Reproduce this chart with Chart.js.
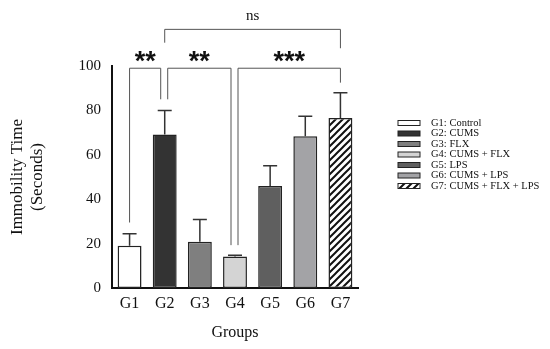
<!DOCTYPE html>
<html>
<head>
<meta charset="utf-8">
<script src="https://cdn.jsdelivr.net/npm/chart.js@4"></script>
<style>
  html, body { margin: 0; padding: 0; background: #fff; }
  #wrap { width: 550px; height: 349px; position: relative; }
</style>
</head>
<body>
<div id="wrap"><canvas id="chart"></canvas></div>
<script>
const groups = ['G1', 'G2', 'G3', 'G4', 'G5', 'G6', 'G7'];
const legendNames = ['G1: Control', 'G2: CUMS', 'G3: FLX', 'G4: CUMS + FLX', 'G5: LPS', 'G6: CUMS + LPS', 'G7: CUMS + FLX + LPS'];
const means = [19, 69.2, 20.8, 14.2, 46, 68.4, 76.6];
const errUpper = [24.4, 80, 30.8, 14.7, 55.1, 77.4, 88];
const yTicks = [0, 20, 40, 60, 80, 100];
// significance brackets: [from index, to index, top value, left leg end, right leg end, label]
const brackets = [
    [0, 1, 99, 29.5, 85, '**'],
    [1, 3, 99, 85, 19.3, '**'],
    [3, 6, 99, 19.3, 92.5, '***'],
    [1, 6, 116.5, 110.5, 108, 'ns']
];
const fills = ['#ffffff', '#333333', '#7f7f7f', '#d4d4d4', '#5f5f5f', '#a3a3a6', 'hatch'];

function hatchPattern() {
    const c = document.createElement('canvas');
    c.width = 7; c.height = 7;
    const g = c.getContext('2d');
    g.fillStyle = '#fff';
    g.fillRect(0, 0, 7, 7);
    g.strokeStyle = '#111';
    g.lineWidth = 2;
    g.beginPath();
    g.moveTo(-1, 8); g.lineTo(8, -1);
    g.moveTo(-4, 4); g.lineTo(4, -4);
    g.moveTo(3, 11); g.lineTo(11, 3);
    g.stroke();
    return g.createPattern(c, 'repeat');
}

const ctx = document.getElementById('chart').getContext('2d');
const hatch = hatchPattern();
const barColors = fills.map(f => f === 'hatch' ? hatch : f);

const extras = {
    id: 'extras',
    afterDatasetsDraw(chart) {
        const c = chart.ctx;
        const x = chart.scales.x;
        const y = chart.scales.y;
        const meta = chart.getDatasetMeta(0);
        // error bars
        c.save();
        c.strokeStyle = '#333';
        c.lineWidth = 1.5;
        means.forEach((m, i) => {
            const px = meta.data[i].x;
            const top = y.getPixelForValue(errUpper[i]);
            c.beginPath();
            c.moveTo(px, y.getPixelForValue(m));
            c.lineTo(px, top);
            c.moveTo(px - 7, top);
            c.lineTo(px + 7, top);
            c.stroke();
        });
        c.restore();
        // brackets
        c.save();
        c.strokeStyle = '#555';
        c.lineWidth = 1;
        brackets.forEach(([a, b, top, la, lb, label]) => {
            let xa = x.getPixelForValue(a);
            let xb = x.getPixelForValue(b);
            if (label !== 'ns' && a > 0) xa += 3;
            if (b === 1 || b === 3) xb -= 4;
            const yt = y.getPixelForValue(top);
            c.beginPath();
            c.moveTo(xa, y.getPixelForValue(la));
            c.lineTo(xa, yt);
            c.lineTo(xb, yt);
            c.lineTo(xb, y.getPixelForValue(lb));
            c.stroke();
            c.fillStyle = '#111';
            c.textAlign = 'center';
            c.textBaseline = 'middle';
            if (label === 'ns') {
                c.font = '15px "Liberation Serif"';
                c.fillText(label, (xa + xb) / 2, yt - 13);
            } else {
                c.font = 'bold 27px "Liberation Sans"';
                c.fillText(label, (xa + xb) / 2, yt - 6);
            }
        });
        c.restore();
        // legend
        c.save();
        c.font = '10.5px "Liberation Serif"';
        c.textBaseline = 'middle';
        c.textAlign = 'left';
        legendNames.forEach((name, i) => {
            const yy = 123 + i * 10.5;
            c.fillStyle = barColors[i];
            c.fillRect(398, yy - 2.5, 22, 5);
            c.strokeStyle = '#222';
            c.lineWidth = 1;
            c.strokeRect(398, yy - 2.5, 22, 5);
            c.fillStyle = '#111';
            c.fillText(name, 431, yy);
        });
        c.restore();
    }
};

new Chart(ctx, {
    type: 'bar',
    data: {
        labels: groups,
        datasets: [{
            data: means,
            backgroundColor: barColors,
            borderColor: '#222',
            borderWidth: 1.5,
            borderSkipped: false,
            barPercentage: 0.68,
            categoryPercentage: 1
        }]
    },
    options: {
        responsive: true,
        maintainAspectRatio: false,
        animation: false,
        layout: { padding: { top: 66, right: 192, left: 6, bottom: 3 } },
        plugins: {
            legend: { display: false },
            tooltip: { enabled: false }
        },
        scales: {
            x: {
                afterFit: s => { s.height = 58; },
                grid: { display: false, drawTicks: false },
                border: { color: '#111', width: 2 },
                ticks: {
                    color: '#111',
                    padding: 6,
                    font: { family: 'Liberation Serif', size: 16 }
                },
                title: {
                    display: true,
                    text: 'Groups',
                    color: '#111',
                    padding: { top: 4, bottom: 4 },
                    font: { family: 'Liberation Serif', size: 16 }
                }
            },
            y: {
                min: 0,
                max: 100,
                afterFit: s => { s.width = 106; },
                afterBuildTicks: s => { s.ticks = yTicks.map(v => ({ value: v })); },
                grid: { display: false, drawTicks: true, tickLength: 7, tickColor: '#111', tickWidth: 2 },
                border: { color: '#111', width: 2 },
                ticks: {
                    color: '#111',
                    padding: 4,
                    font: { family: 'Liberation Serif', size: 15 }
                },
                title: {
                    display: true,
                    text: ['Immobility Time', '(Seconds)'],
                    color: '#111',
                    padding: { top: 2, bottom: 28 },
                    font: { family: 'Liberation Serif', size: 17, lineHeight: 1.15 }
                }
            }
        }
    },
    plugins: [extras]
});
</script>
</body>
</html>
